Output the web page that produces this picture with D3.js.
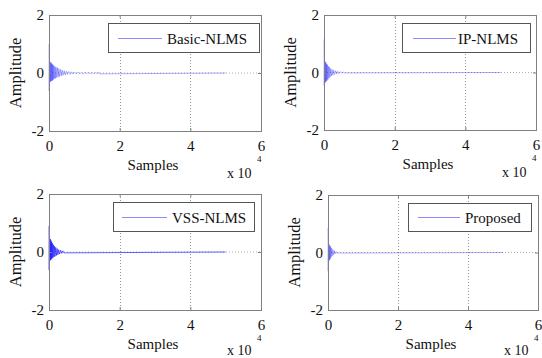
<!DOCTYPE html>
<html><head><meta charset="utf-8">
<script src="https://cdn.jsdelivr.net/npm/d3@7"></script>
<style>
html,body{margin:0;padding:0;background:#fff;}
svg{display:block;}
svg text{font-family:"Liberation Serif","Times New Roman",serif;}
</style></head><body>
<svg id="c" width="542" height="358"></svg>
<script>
// ---- data ----
const seriesNames = ["Basic-NLMS", "IP-NLMS", "VSS-NLMS", "Proposed"];
const xTicks = [0, 20000, 40000, 60000];
const xTickLabels = ["0", "2", "4", "6"];
const yTicks = [-2, 0, 2];
const yTickLabels = ["-2", "0", "2"];
const xLabel = "Samples";
const yLabel = "Amplitude";

const basicX = [0,60,150,250,350,450,550,650,750,850,950,1050,1150,1250,1400,1550,1700,1850,2000,2200,2400,2600,2800,3000,3250,3500,3750,4000,4300,4600,4900,5200,5600,6000,6400,6800,7200,7700,8200,8700,9200,9700,10200,10700,11200,11700,12200,12700,13200,13700,14100,14400,50000];
const basicY = [1.0,-0.62,0.45,-0.31,0.38,-0.30,0.36,-0.28,0.33,-0.27,0.30,-0.25,0.28,-0.22,0.25,-0.2,0.22,-0.18,0.2,-0.16,0.18,-0.14,0.15,-0.12,0.12,-0.10,0.1,-0.08,0.08,-0.07,0.06,-0.05,0.05,-0.045,0.04,-0.035,0.035,-0.03,0.03,-0.03,0.025,-0.025,0.025,-0.02,0.02,-0.02,0.02,-0.02,0.015,-0.02,0.03,-0.03,0];

const ipX = [0,60,150,250,350,450,550,650,750,850,950,1100,1250,1400,1550,1700,1900,2100,2300,2500,2750,3000,3300,3600,3900,4200,4600,5000,5400,5800,50000];
const ipY = [1.15,-0.45,0.4,-0.36,0.38,-0.34,0.35,-0.3,0.3,-0.28,0.27,-0.24,0.22,-0.2,0.18,-0.16,0.14,-0.12,0.1,-0.09,0.08,-0.07,0.06,-0.05,0.04,-0.035,0.03,-0.025,0.02,-0.015,0];

const vssX = [0,60,150,250,350,450,550,650,750,850,950,1100,1250,1400,1550,1700,1900,2100,2300,2500,2750,3000,3300,3600,3900,4200,50000];
const vssY = [0.9,-0.62,0.5,-0.3,0.45,-0.28,0.4,-0.25,0.35,-0.22,0.3,-0.2,0.25,-0.17,0.2,-0.15,0.16,-0.12,0.12,-0.1,0.08,-0.07,0.06,-0.05,0.04,-0.03,0];

const propX = [0,60,150,250,350,450,550,650,750,900,1050,1200,1400,1600,1800,2000,2300,2600,50000];
const propY = [0.86,-0.65,0.3,-0.3,0.28,-0.26,0.24,-0.22,0.2,-0.17,0.15,-0.12,0.1,-0.08,0.06,-0.05,0.03,-0.02,0];

const seriesX = [basicX, ipX, vssX, propX];
const seriesY = [basicY, ipY, vssY, propY];

// ---- layout ----
const panels = [
  {L:49, R:261, T:15, B:131, ex:47, leg:{x0:108,x1:259,y0:23,y1:52,l0:118,l1:162,tx:167}, stroke:"#0000ff", sw:0.6, op:0.5},
  {L:324, R:536, T:15, B:130, ex:47, leg:{x0:402,x1:530,y0:23,y1:52,l0:413,l1:456,tx:458}, stroke:"#0000ff", sw:0.6, op:0.5},
  {L:49, R:261, T:194, B:310, ex:45, leg:{x0:113,x1:254,y0:202,y1:231,l0:122,l1:167,tx:172}, stroke:"#1a1aff", sw:0.9, op:0.75},
  {L:328, R:538, T:195, B:310, ex:45, leg:{x0:408,x1:531,y0:203,y1:231,l0:418,l1:460,tx:465}, stroke:"#0000ff", sw:0.6, op:0.5}
];

const svg = d3.select("#c");
const FS = 15;
const FF = "'Liberation Serif', 'Times New Roman', serif";

panels.forEach((p, i) => {
  const x = d3.scaleLinear([0, 60000], [p.L, p.R]);
  const y = d3.scaleLinear([-2, 2], [p.B, p.T]);
  const g = svg.append("g");

  // grid (dotted)
  g.selectAll(".gx").data(xTicks.slice(1, -1)).join("line")
    .attr("x1", d => Math.round(x(d)) + 0.5).attr("x2", d => Math.round(x(d)) + 0.5).attr("y1", p.T).attr("y2", p.B)
    .attr("stroke", "#8a8a8a").attr("stroke-width", 0.9).attr("stroke-dasharray", "1,2");
  g.selectAll(".gy").data(yTicks.slice(1, -1)).join("line")
    .attr("x1", p.L).attr("x2", p.R).attr("y1", d => y(d)).attr("y2", d => y(d))
    .attr("stroke", "#9a9a9a").attr("stroke-width", 0.8).attr("stroke-dasharray", "1,2");

  // series
  const pts = seriesX[i].map((v, k) => [v, seriesY[i][k]]);
  g.append("path").datum(pts)
    .attr("d", d3.line().x(d => x(d[0])).y(d => y(d[1])))
    .attr("fill", "none").attr("stroke", p.stroke).attr("stroke-width", p.sw)
    .attr("stroke-opacity", p.op);

  // axes
  const ax = d3.axisBottom(x).tickValues(xTicks).tickFormat((d, k) => xTickLabels[k])
    .tickSizeInner(-3).tickSizeOuter(0).tickPadding(9);
  const ay = d3.axisLeft(y).tickValues(yTicks).tickFormat((d, k) => yTickLabels[k])
    .tickSizeInner(-3).tickSizeOuter(0).tickPadding(5);
  const gx = g.append("g").attr("transform", `translate(0,${p.B})`).call(ax);
  const gy = g.append("g").attr("transform", `translate(${p.L},0)`).call(ay);
  [gx, gy].forEach(a => {
    a.attr("font-family", FF).attr("font-size", FS);
    a.select(".domain").remove();
    a.selectAll(".tick line").attr("stroke", "#808080");
    a.selectAll(".tick text").attr("fill", "#111").attr("font-family", FF).attr("font-size", FS);
  });
  // top / right ticks
  const axT = d3.axisTop(x).tickValues(xTicks).tickFormat("").tickSizeInner(-3).tickSizeOuter(0);
  const ayR = d3.axisRight(y).tickValues(yTicks).tickFormat("").tickSizeInner(-3).tickSizeOuter(0);
  const gt = g.append("g").attr("transform", `translate(0,${p.T})`).call(axT);
  const gr = g.append("g").attr("transform", `translate(${p.R},0)`).call(ayR);
  [gt, gr].forEach(a => { a.select(".domain").remove(); a.selectAll(".tick line").attr("stroke", "#808080"); });

  // box
  g.append("rect").attr("x", p.L + 0.5).attr("y", p.T + 0.5)
    .attr("width", p.R - p.L).attr("height", p.B - p.T)
    .attr("fill", "none").attr("stroke", "#808080").attr("stroke-width", 1);

  // labels
  g.append("text").attr("x", (p.L + p.R) / 2 - 2).attr("y", p.B + 39)
    .attr("text-anchor", "middle").attr("fill", "#111").attr("font-family", FF)
    .attr("font-size", FS).text(xLabel);
  g.append("text").attr("transform", `translate(${p.L - 28},${(p.T + p.B) / 2}) rotate(-90)`)
    .attr("text-anchor", "middle").attr("fill", "#111").attr("font-family", FF)
    .attr("font-size", 16.5).text(yLabel);
  g.append("text").attr("x", p.R - 34).attr("y", p.B + p.ex)
    .attr("fill", "#111").attr("font-family", FF).attr("font-size", 14).text("x 10");
  g.append("text").attr("x", p.R - 4).attr("y", p.B + 31)
    .attr("fill", "#111").attr("font-family", FF).attr("font-size", 9).text("4");

  // legend
  const L = p.leg;
  g.append("rect").attr("x", L.x0 + 0.5).attr("y", L.y0 + 0.5)
    .attr("width", L.x1 - L.x0).attr("height", L.y1 - L.y0)
    .attr("fill", "#fff").attr("stroke", "#555").attr("stroke-width", 1);
  const ly = Math.round((L.y0 + L.y1) / 2) + 0.5;
  g.append("line").attr("x1", L.l0).attr("x2", L.l1).attr("y1", ly).attr("y2", ly)
    .attr("stroke", "#8c8cff").attr("stroke-width", 1);
  g.append("text").attr("x", L.tx).attr("y", ly + 5).attr("fill", "#111")
    .attr("font-family", FF).attr("font-size", FS).text(seriesNames[i]);
});
</script>
</body></html>
